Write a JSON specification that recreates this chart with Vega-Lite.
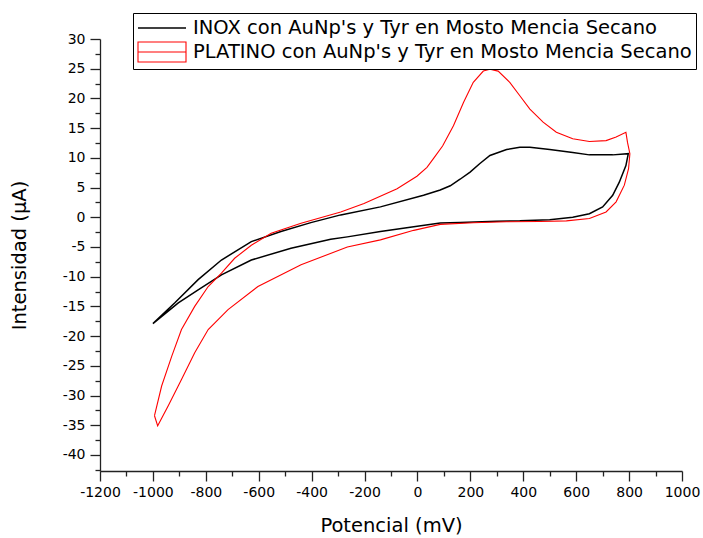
{
  "$schema": "https://vega.github.io/schema/vega-lite/v6.json",
  "width": 582,
  "height": 432,
  "autosize": {"type": "none"},
  "padding": {"left": 100, "top": 39, "right": 21, "bottom": 67},
  "background": "white",
  "config": {"view": {"stroke": null}, "font": "DejaVu Sans"},
  "data": {"values": [
    {"s": "INOX con AuNp's y Tyr en Mosto Mencia Secano", "i": 1, "E": -1000, "I": -17.9},
    {"s": "INOX con AuNp's y Tyr en Mosto Mencia Secano", "i": 2, "E": -917, "I": -14.4},
    {"s": "INOX con AuNp's y Tyr en Mosto Mencia Secano", "i": 3, "E": -829, "I": -10.5},
    {"s": "INOX con AuNp's y Tyr en Mosto Mencia Secano", "i": 4, "E": -741, "I": -7.2},
    {"s": "INOX con AuNp's y Tyr en Mosto Mencia Secano", "i": 5, "E": -628, "I": -4.1},
    {"s": "INOX con AuNp's y Tyr en Mosto Mencia Secano", "i": 6, "E": -516, "I": -2.4},
    {"s": "INOX con AuNp's y Tyr en Mosto Mencia Secano", "i": 7, "E": -403, "I": -0.9},
    {"s": "INOX con AuNp's y Tyr en Mosto Mencia Secano", "i": 8, "E": -290, "I": 0.4},
    {"s": "INOX con AuNp's y Tyr en Mosto Mencia Secano", "i": 9, "E": -140, "I": 1.75},
    {"s": "INOX con AuNp's y Tyr en Mosto Mencia Secano", "i": 10, "E": 23, "I": 3.7},
    {"s": "INOX con AuNp's y Tyr en Mosto Mencia Secano", "i": 11, "E": 86, "I": 4.6},
    {"s": "INOX con AuNp's y Tyr en Mosto Mencia Secano", "i": 12, "E": 124, "I": 5.3},
    {"s": "INOX con AuNp's y Tyr en Mosto Mencia Secano", "i": 13, "E": 161, "I": 6.4},
    {"s": "INOX con AuNp's y Tyr en Mosto Mencia Secano", "i": 14, "E": 199, "I": 7.6},
    {"s": "INOX con AuNp's y Tyr en Mosto Mencia Secano", "i": 15, "E": 235, "I": 9.0},
    {"s": "INOX con AuNp's y Tyr en Mosto Mencia Secano", "i": 16, "E": 274, "I": 10.4},
    {"s": "INOX con AuNp's y Tyr en Mosto Mencia Secano", "i": 17, "E": 337, "I": 11.4},
    {"s": "INOX con AuNp's y Tyr en Mosto Mencia Secano", "i": 18, "E": 387, "I": 11.8},
    {"s": "INOX con AuNp's y Tyr en Mosto Mencia Secano", "i": 19, "E": 425, "I": 11.8},
    {"s": "INOX con AuNp's y Tyr en Mosto Mencia Secano", "i": 20, "E": 500, "I": 11.4},
    {"s": "INOX con AuNp's y Tyr en Mosto Mencia Secano", "i": 21, "E": 587, "I": 10.9},
    {"s": "INOX con AuNp's y Tyr en Mosto Mencia Secano", "i": 22, "E": 650, "I": 10.5},
    {"s": "INOX con AuNp's y Tyr en Mosto Mencia Secano", "i": 23, "E": 738, "I": 10.5},
    {"s": "INOX con AuNp's y Tyr en Mosto Mencia Secano", "i": 24, "E": 797, "I": 10.7},
    {"s": "INOX con AuNp's y Tyr en Mosto Mencia Secano", "i": 25, "E": 788, "I": 8.7},
    {"s": "INOX con AuNp's y Tyr en Mosto Mencia Secano", "i": 26, "E": 763, "I": 5.9},
    {"s": "INOX con AuNp's y Tyr en Mosto Mencia Secano", "i": 27, "E": 738, "I": 3.7},
    {"s": "INOX con AuNp's y Tyr en Mosto Mencia Secano", "i": 28, "E": 700, "I": 1.75},
    {"s": "INOX con AuNp's y Tyr en Mosto Mencia Secano", "i": 29, "E": 650, "I": 0.6},
    {"s": "INOX con AuNp's y Tyr en Mosto Mencia Secano", "i": 30, "E": 587, "I": 0.0},
    {"s": "INOX con AuNp's y Tyr en Mosto Mencia Secano", "i": 31, "E": 500, "I": -0.4},
    {"s": "INOX con AuNp's y Tyr en Mosto Mencia Secano", "i": 32, "E": 387, "I": -0.6},
    {"s": "INOX con AuNp's y Tyr en Mosto Mencia Secano", "i": 33, "E": 299, "I": -0.65},
    {"s": "INOX con AuNp's y Tyr en Mosto Mencia Secano", "i": 34, "E": 161, "I": -0.86},
    {"s": "INOX con AuNp's y Tyr en Mosto Mencia Secano", "i": 35, "E": 86, "I": -0.95},
    {"s": "INOX con AuNp's y Tyr en Mosto Mencia Secano", "i": 36, "E": -14, "I": -1.6},
    {"s": "INOX con AuNp's y Tyr en Mosto Mencia Secano", "i": 37, "E": -140, "I": -2.4},
    {"s": "INOX con AuNp's y Tyr en Mosto Mencia Secano", "i": 38, "E": -265, "I": -3.3},
    {"s": "INOX con AuNp's y Tyr en Mosto Mencia Secano", "i": 39, "E": -328, "I": -3.7},
    {"s": "INOX con AuNp's y Tyr en Mosto Mencia Secano", "i": 40, "E": -478, "I": -5.2},
    {"s": "INOX con AuNp's y Tyr en Mosto Mencia Secano", "i": 41, "E": -628, "I": -7.2},
    {"s": "INOX con AuNp's y Tyr en Mosto Mencia Secano", "i": 42, "E": -741, "I": -9.7},
    {"s": "INOX con AuNp's y Tyr en Mosto Mencia Secano", "i": 43, "E": -829, "I": -12.2},
    {"s": "INOX con AuNp's y Tyr en Mosto Mencia Secano", "i": 44, "E": -904, "I": -14.4},
    {"s": "INOX con AuNp's y Tyr en Mosto Mencia Secano", "i": 45, "E": -1000, "I": -17.9},
    {"s": "PLATINO con AuNp's y Tyr en Mosto Mencia Secano", "i": 1, "E": -994, "I": -33.4},
    {"s": "PLATINO con AuNp's y Tyr en Mosto Mencia Secano", "i": 2, "E": -967, "I": -28.4},
    {"s": "PLATINO con AuNp's y Tyr en Mosto Mencia Secano", "i": 3, "E": -929, "I": -23.4},
    {"s": "PLATINO con AuNp's y Tyr en Mosto Mencia Secano", "i": 4, "E": -892, "I": -18.9},
    {"s": "PLATINO con AuNp's y Tyr en Mosto Mencia Secano", "i": 5, "E": -842, "I": -15.0},
    {"s": "PLATINO con AuNp's y Tyr en Mosto Mencia Secano", "i": 6, "E": -791, "I": -11.65},
    {"s": "PLATINO con AuNp's y Tyr en Mosto Mencia Secano", "i": 7, "E": -741, "I": -9.4},
    {"s": "PLATINO con AuNp's y Tyr en Mosto Mencia Secano", "i": 8, "E": -691, "I": -6.9},
    {"s": "PLATINO con AuNp's y Tyr en Mosto Mencia Secano", "i": 9, "E": -628, "I": -4.7},
    {"s": "PLATINO con AuNp's y Tyr en Mosto Mencia Secano", "i": 10, "E": -553, "I": -2.7},
    {"s": "PLATINO con AuNp's y Tyr en Mosto Mencia Secano", "i": 11, "E": -440, "I": -1.0},
    {"s": "PLATINO con AuNp's y Tyr en Mosto Mencia Secano", "i": 12, "E": -290, "I": 0.9},
    {"s": "PLATINO con AuNp's y Tyr en Mosto Mencia Secano", "i": 13, "E": -202, "I": 2.3},
    {"s": "PLATINO con AuNp's y Tyr en Mosto Mencia Secano", "i": 14, "E": -77, "I": 4.8},
    {"s": "PLATINO con AuNp's y Tyr en Mosto Mencia Secano", "i": 15, "E": -2, "I": 6.9},
    {"s": "PLATINO con AuNp's y Tyr en Mosto Mencia Secano", "i": 16, "E": 36, "I": 8.4},
    {"s": "PLATINO con AuNp's y Tyr en Mosto Mencia Secano", "i": 17, "E": 61, "I": 9.9},
    {"s": "PLATINO con AuNp's y Tyr en Mosto Mencia Secano", "i": 18, "E": 95, "I": 12.0},
    {"s": "PLATINO con AuNp's y Tyr en Mosto Mencia Secano", "i": 19, "E": 136, "I": 15.4},
    {"s": "PLATINO con AuNp's y Tyr en Mosto Mencia Secano", "i": 20, "E": 174, "I": 19.3},
    {"s": "PLATINO con AuNp's y Tyr en Mosto Mencia Secano", "i": 21, "E": 211, "I": 22.7},
    {"s": "PLATINO con AuNp's y Tyr en Mosto Mencia Secano", "i": 22, "E": 249, "I": 24.6},
    {"s": "PLATINO con AuNp's y Tyr en Mosto Mencia Secano", "i": 23, "E": 274, "I": 24.9},
    {"s": "PLATINO con AuNp's y Tyr en Mosto Mencia Secano", "i": 24, "E": 305, "I": 24.6},
    {"s": "PLATINO con AuNp's y Tyr en Mosto Mencia Secano", "i": 25, "E": 349, "I": 22.7},
    {"s": "PLATINO con AuNp's y Tyr en Mosto Mencia Secano", "i": 26, "E": 387, "I": 20.45},
    {"s": "PLATINO con AuNp's y Tyr en Mosto Mencia Secano", "i": 27, "E": 425, "I": 18.2},
    {"s": "PLATINO con AuNp's y Tyr en Mosto Mencia Secano", "i": 28, "E": 475, "I": 16.0},
    {"s": "PLATINO con AuNp's y Tyr en Mosto Mencia Secano", "i": 29, "E": 525, "I": 14.3},
    {"s": "PLATINO con AuNp's y Tyr en Mosto Mencia Secano", "i": 30, "E": 587, "I": 13.2},
    {"s": "PLATINO con AuNp's y Tyr en Mosto Mencia Secano", "i": 31, "E": 650, "I": 12.75},
    {"s": "PLATINO con AuNp's y Tyr en Mosto Mencia Secano", "i": 32, "E": 713, "I": 12.9},
    {"s": "PLATINO con AuNp's y Tyr en Mosto Mencia Secano", "i": 33, "E": 751, "I": 13.5},
    {"s": "PLATINO con AuNp's y Tyr en Mosto Mencia Secano", "i": 34, "E": 788, "I": 14.3},
    {"s": "PLATINO con AuNp's y Tyr en Mosto Mencia Secano", "i": 35, "E": 794, "I": 12.6},
    {"s": "PLATINO con AuNp's y Tyr en Mosto Mencia Secano", "i": 36, "E": 803, "I": 10.7},
    {"s": "PLATINO con AuNp's y Tyr en Mosto Mencia Secano", "i": 37, "E": 798, "I": 8.2},
    {"s": "PLATINO con AuNp's y Tyr en Mosto Mencia Secano", "i": 38, "E": 782, "I": 5.4},
    {"s": "PLATINO con AuNp's y Tyr en Mosto Mencia Secano", "i": 39, "E": 751, "I": 2.6},
    {"s": "PLATINO con AuNp's y Tyr en Mosto Mencia Secano", "i": 40, "E": 713, "I": 0.9},
    {"s": "PLATINO con AuNp's y Tyr en Mosto Mencia Secano", "i": 41, "E": 650, "I": -0.2},
    {"s": "PLATINO con AuNp's y Tyr en Mosto Mencia Secano", "i": 42, "E": 563, "I": -0.6},
    {"s": "PLATINO con AuNp's y Tyr en Mosto Mencia Secano", "i": 43, "E": 462, "I": -0.7},
    {"s": "PLATINO con AuNp's y Tyr en Mosto Mencia Secano", "i": 44, "E": 337, "I": -0.76},
    {"s": "PLATINO con AuNp's y Tyr en Mosto Mencia Secano", "i": 45, "E": 211, "I": -0.93},
    {"s": "PLATINO con AuNp's y Tyr en Mosto Mencia Secano", "i": 46, "E": 86, "I": -1.2},
    {"s": "PLATINO con AuNp's y Tyr en Mosto Mencia Secano", "i": 47, "E": -14, "I": -2.2},
    {"s": "PLATINO con AuNp's y Tyr en Mosto Mencia Secano", "i": 48, "E": -140, "I": -3.8},
    {"s": "PLATINO con AuNp's y Tyr en Mosto Mencia Secano", "i": 49, "E": -265, "I": -5.0},
    {"s": "PLATINO con AuNp's y Tyr en Mosto Mencia Secano", "i": 50, "E": -440, "I": -8.0},
    {"s": "PLATINO con AuNp's y Tyr en Mosto Mencia Secano", "i": 51, "E": -603, "I": -11.65},
    {"s": "PLATINO con AuNp's y Tyr en Mosto Mencia Secano", "i": 52, "E": -716, "I": -15.55},
    {"s": "PLATINO con AuNp's y Tyr en Mosto Mencia Secano", "i": 53, "E": -791, "I": -18.9},
    {"s": "PLATINO con AuNp's y Tyr en Mosto Mencia Secano", "i": 54, "E": -842, "I": -22.8},
    {"s": "PLATINO con AuNp's y Tyr en Mosto Mencia Secano", "i": 55, "E": -892, "I": -27.3},
    {"s": "PLATINO con AuNp's y Tyr en Mosto Mencia Secano", "i": 56, "E": -942, "I": -31.7},
    {"s": "PLATINO con AuNp's y Tyr en Mosto Mencia Secano", "i": 57, "E": -982, "I": -35.1},
    {"s": "PLATINO con AuNp's y Tyr en Mosto Mencia Secano", "i": 58, "E": -994, "I": -33.4}
  ]},
  "layer": [
    {
      "mark": {"type": "line", "interpolate": "linear"},
      "encoding": {
        "x": {
          "field": "E", "type": "quantitative",
          "scale": {"domain": [-1200, 1000], "nice": false, "zero": false},
          "axis": {
            "title": "Potencial (mV)",
            "values": [-1200, -1000, -800, -600, -400, -200, 0, 200, 400, 600, 800, 1000],
            "labelExpr": "toString(datum.value)",
            "grid": false, "tickSize": 10, "labelPadding": 4,
            "labelFontSize": 14, "labelFont": "DejaVu Sans", "labelColor": "#000",
            "labelFlush": false, "labelOverlap": false,
            "titleFontSize": 19.5, "titleFont": "DejaVu Sans", "titleFontWeight": "normal", "titleColor": "#000", "titlePadding": 17,
            "domainColor": "#222", "domainWidth": 1.3, "tickColor": "#222", "tickWidth": 1.3
          }
        },
        "y": {
          "field": "I", "type": "quantitative",
          "scale": {"domain": [-42.7, 30], "nice": false, "zero": false},
          "axis": {
            "title": "Intensidad (μA)",
            "values": [-40, -35, -30, -25, -20, -15, -10, -5, 0, 5, 10, 15, 20, 25, 30],
            "labelExpr": "toString(datum.value)",
            "grid": false, "tickSize": 10, "labelPadding": 5,
            "labelFontSize": 14, "labelFont": "DejaVu Sans", "labelColor": "#000",
            "labelFlush": false, "labelOverlap": false,
            "titleFontSize": 19.5, "titleFont": "DejaVu Sans", "titleFontWeight": "normal", "titleColor": "#000", "titlePadding": 33,
            "domainColor": "#222", "domainWidth": 1.3, "tickColor": "#222", "tickWidth": 1.3
          }
        },
        "color": {
          "field": "s", "type": "nominal",
          "scale": {"domain": ["INOX con AuNp's y Tyr en Mosto Mencia Secano", "PLATINO con AuNp's y Tyr en Mosto Mencia Secano"], "range": ["#000000", "#ff0000"]},
          "legend": {
            "title": null, "orient": "none", "legendX": 33, "legendY": -26, "direction": "vertical",
            "strokeColor": "#000", "fillColor": "#fff", "padding": 4, "cornerRadius": 0,
            "labelFontSize": 19.5, "labelFont": "DejaVu Sans", "labelColor": "#000", "labelLimit": 700,
            "symbolType": "stroke", "symbolSize": 400, "symbolStrokeWidth": 1.6, "labelOffset": 34, "rowPadding": 1,
            "encode": {"symbols": {"update": {
              "shape": {"signal": "indexof(datum.value, 'PLATINO') === 0 ? 'M-1,-1H3.8V1H-1ZM-1,0H3.8' : 'M-1,0H3.8'"},
              "strokeWidth": {"signal": "indexof(datum.value, 'PLATINO') === 0 ? 1.2 : 1.8"}
            }}}
          }
        },
        "strokeWidth": {
          "field": "s", "type": "nominal",
          "scale": {"domain": ["INOX con AuNp's y Tyr en Mosto Mencia Secano", "PLATINO con AuNp's y Tyr en Mosto Mencia Secano"], "range": [1.5, 1.1]},
          "legend": null
        },
        "order": {"field": "i", "type": "quantitative"}
      }
    },
    {
      "mark": {"type": "point", "opacity": 0},
      "encoding": {
        "x": {
          "field": "E", "type": "quantitative",
          "axis": {
            "orient": "bottom", "title": null, "labels": false, "domain": false, "grid": false,
            "values": [-1100, -900, -700, -500, -300, -100, 100, 300, 500, 700, 900],
            "tickSize": 5, "tickColor": "#222", "tickWidth": 1.3
          }
        },
        "y": {
          "field": "I", "type": "quantitative",
          "axis": {
            "orient": "left", "title": null, "labels": false, "domain": false, "grid": false,
            "values": [-42.5, -37.5, -32.5, -27.5, -22.5, -17.5, -12.5, -7.5, -2.5, 2.5, 7.5, 12.5, 17.5, 22.5, 27.5],
            "tickSize": 5, "tickColor": "#222", "tickWidth": 1.3
          }
        }
      }
    }
  ],
  "resolve": {"axis": {"x": "independent", "y": "independent"}}
}
